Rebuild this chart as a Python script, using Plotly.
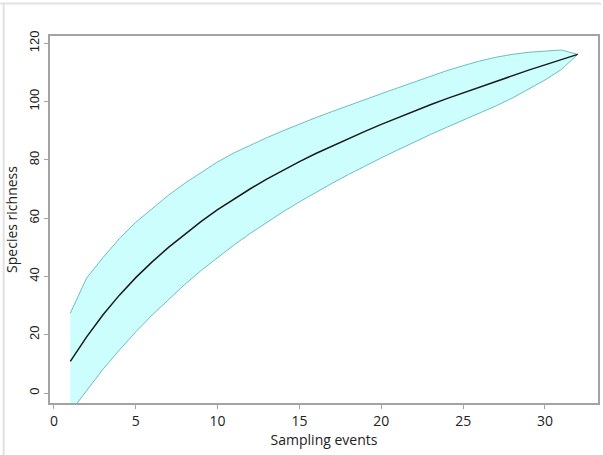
import plotly.graph_objects as go

events = list(range(1, 33))
mean_richness = [10.9, 19.3, 26.9, 33.6, 39.6, 45.0, 50.0, 54.6, 58.9, 62.9,
                 66.6, 70.1, 73.4, 76.5, 79.4, 82.2, 84.8, 87.3, 89.8, 92.2,
                 94.5, 96.7, 98.9, 101.0, 103.0, 105.0, 107.0, 108.9, 110.8, 112.6,
                 114.4, 116.2]
upper_ci = [27.4, 39.5, 46.5, 53.0, 58.6, 63.4, 67.9, 72.0, 75.8, 79.3,
            82.4, 85.1, 87.6, 90.0, 92.3, 94.5, 96.6, 98.7, 100.7, 102.7,
            104.7, 106.7, 108.7, 110.6, 112.3, 113.9, 115.2, 116.2, 116.9, 117.4,
            117.7, 116.2]
lower_ci = [-6.5, 1.0, 8.2, 14.8, 21.0, 26.8, 32.2, 37.3, 42.1, 46.6,
            50.8, 54.8, 58.6, 62.2, 65.6, 68.9, 72.0, 75.0, 77.9, 80.7,
            83.4, 86.1, 88.7, 91.2, 93.6, 96.0, 98.5, 101.2, 104.2, 107.4,
            111.0, 116.2]

x_ticks = [0, 5, 10, 15, 20, 25, 30]
y_ticks = [0, 20, 40, 60, 80, 100, 120]

band_line = "#6fbdbd"
band_fill = "#ccfefe"
frame = "#a3a3a3"

fig = go.Figure()
fig.add_trace(go.Scatter(x=events, y=upper_ci, mode="lines",
                         line=dict(color=band_line, width=1), showlegend=False,
                         hoverinfo="skip"))
fig.add_trace(go.Scatter(x=events, y=lower_ci, mode="lines", fill="tonexty",
                         fillcolor=band_fill,
                         line=dict(color=band_line, width=1), showlegend=False,
                         hoverinfo="skip"))
fig.add_trace(go.Scatter(x=events, y=mean_richness, mode="lines",
                         line=dict(color="#1a1a1a", width=1.5), showlegend=False))

W, H = 603, 455
L, R, T, B = 50, 3, 36, 52
pw = W - L - R
ph = H - T - B

def px2paper_x(px):
    return (px - L) / pw

def py2paper_y(py):
    return (H - B - py) / ph

fig.update_layout(
    width=W, height=H,
    margin=dict(l=L, r=R, t=T, b=B),
    paper_bgcolor="white", plot_bgcolor="white",
    xaxis=dict(range=[-0.24, 33.24], tickvals=x_ticks, ticks="outside",
               ticklen=4, tickwidth=1, tickcolor=frame,
               showline=True, mirror=True, linecolor=frame, linewidth=1.5,
               showgrid=False, zeroline=False,
               tickfont=dict(family="Open Sans", size=14, color="#222"),
               title=dict(text="Sampling events", standoff=4,
                          font=dict(family="Open Sans", size=14, color="#222"))),
    yaxis=dict(range=[-3.4, 122.5], tickvals=y_ticks, ticks="outside",
               ticklen=4, tickwidth=1, tickcolor=frame, tickangle=-90,
               showline=True, mirror=True, linecolor=frame, linewidth=1.5,
               showgrid=False, zeroline=False,
               tickfont=dict(family="Liberation Sans", size=13, color="#222"),
               title=dict(text="Species richness", standoff=6,
                          font=dict(family="Open Sans", size=14, color="#222"))),
    shapes=[
        dict(type="line", xref="paper", yref="paper",
             x0=px2paper_x(0), x1=px2paper_x(W), y0=py2paper_y(3.5), y1=py2paper_y(3.5),
             line=dict(color="#e2e2e2", width=2)),
        dict(type="line", xref="paper", yref="paper",
             x0=px2paper_x(3.5), x1=px2paper_x(3.5), y0=py2paper_y(3.5), y1=py2paper_y(H),
             line=dict(color="#e2e2e2", width=2)),
    ],
)

fig.write_html("out.html", config={"displayModeBar": False})

with open("out.html", "r", encoding="utf-8") as f:
    html = f.read()
html = html.replace("<head>", "<head><style>html,body{margin:0;padding:0;overflow:hidden;}</style>", 1)
with open("out.html", "w", encoding="utf-8") as f:
    f.write(html)
